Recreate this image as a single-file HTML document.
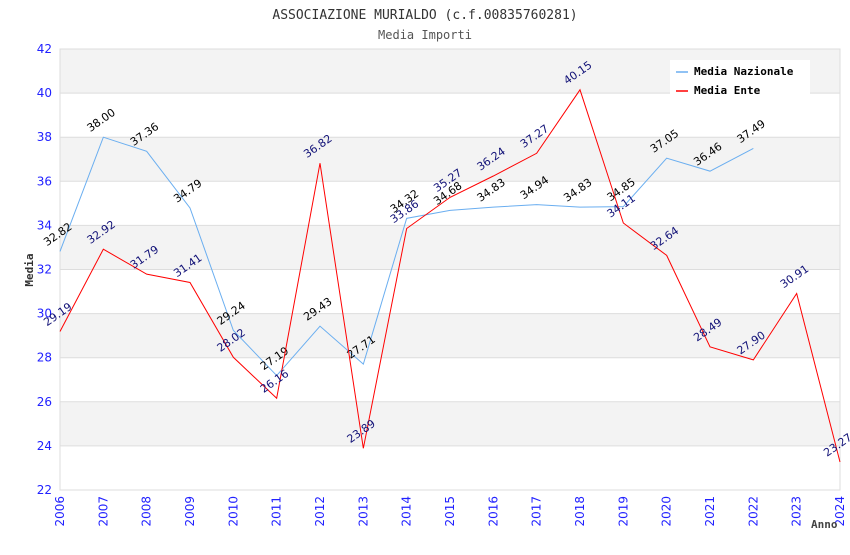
<!DOCTYPE html>
<html><head><meta charset="utf-8"><style>
body{margin:0;background:#fff}
svg text{font-family:"DejaVu Sans Mono","Liberation Mono",monospace}
</style></head><body>
<svg id="c" width="850" height="550">
<text x="425" y="19" text-anchor="middle" font-size="13" fill="#333">ASSOCIAZIONE MURIALDO (c.f.00835760281)</text>
<text x="425" y="39" text-anchor="middle" font-size="12" fill="#555">Media Importi</text>
<g id="grid"></g><g id="axes"></g><g id="series"></g>
<text x="33" y="270" transform="rotate(-90 33 270)" text-anchor="middle" font-size="11" font-weight="bold" fill="#333">Media</text>
<text x="811" y="528" font-size="11" font-weight="bold" fill="#444">Anno</text>
<g>
<rect x="670" y="60" width="140" height="37" fill="#fff"/>
<line x1="676" y1="72" x2="688" y2="72" stroke="#6aaef0" stroke-width="1.5"/>
<text x="694" y="75" font-size="11" font-weight="bold" fill="#000">Media Nazionale</text>
<line x1="676" y1="91" x2="688" y2="91" stroke="#f00" stroke-width="1.5"/>
<text x="694" y="94" font-size="11" font-weight="bold" fill="#000">Media Ente</text>
</g>
</svg>
<script>
const years=[2006,2007,2008,2009,2010,2011,2012,2013,2014,2015,2016,2017,2018,2019,2020,2021,2022,2023,2024];
const nazionale=[32.82,38.00,37.36,34.79,29.24,27.19,29.43,27.71,34.32,34.68,34.83,34.94,34.83,34.85,37.05,36.46,37.49];
const ente=[29.19,32.92,31.79,31.41,28.02,26.16,36.82,23.89,33.86,35.27,36.24,37.27,40.15,34.11,32.64,28.49,27.90,30.91,23.27];
const yTicks=[22,24,26,28,30,32,34,36,38,40,42];
const L=60,R=840,T=49,B=490,yMin=22,yMax=42;
const x=i=>L+(R-L)*i/(years.length-1);
const y=v=>B-(v-yMin)/(yMax-yMin)*(B-T);
const NS='http://www.w3.org/2000/svg';
function mk(t,a,p){const e=document.createElementNS(NS,t);for(const k in a)e.setAttribute(k,a[k]);p.appendChild(e);return e;}
const grid=document.getElementById('grid'),axes=document.getElementById('axes'),ser=document.getElementById('series');
for(let i=0;i<yTicks.length-1;i++){
 if(i%2===1){const r=mk('rect',{x:L,y:y(yTicks[i+1]),width:R-L,height:y(yTicks[i])-y(yTicks[i+1]),fill:'#f3f3f3'},grid);
 
 }
}
yTicks.forEach(v=>{
 const l=mk('line',{x1:L,x2:R,y1:y(v),y2:y(v),stroke:'#ddd'},grid);
 
 
 const t=mk('text',{x:L-8,y:y(v)+4,'text-anchor':'end','font-size':12,fill:'#22f',style:'font-family:"DejaVu Sans",sans-serif'},axes);
 t.textContent=v;
 
 
});
mk('rect',{x:L,y:T,width:R-L,height:B-T,fill:'none',stroke:'#ddd'},grid);
years.forEach((yr,i)=>{
 const t=mk('text',{x:x(i)+4,y:B+6,'text-anchor':'end','font-size':12,fill:'#22f',transform:`rotate(-90 ${x(i)+4} ${B+6})`,style:'font-family:"DejaVu Sans",sans-serif'},axes);
 t.textContent=yr;
 
 
});
function draw(data,color,lab,name,w){
 const p=mk('polyline',{points:data.map((v,i)=>x(i)+','+y(v)).join(' '),fill:'none',stroke:color,'stroke-width':w},ser);
 
 
 data.forEach((v,i)=>{
  const tx=x(i)-13,ty=y(v)-5;
  const t=mk('text',{x:tx,y:ty,'font-size':11,fill:lab,transform:`rotate(-35 ${tx} ${ty})`,style:'font-family:"DejaVu Sans",sans-serif'},ser);
  t.textContent=v.toFixed(2);
  
  
 });
}
draw(nazionale,'#6aaef0','#000','nazionale-line',1);
draw(ente,'#f00','#117','ente-line',1);
</script>
</body></html>
